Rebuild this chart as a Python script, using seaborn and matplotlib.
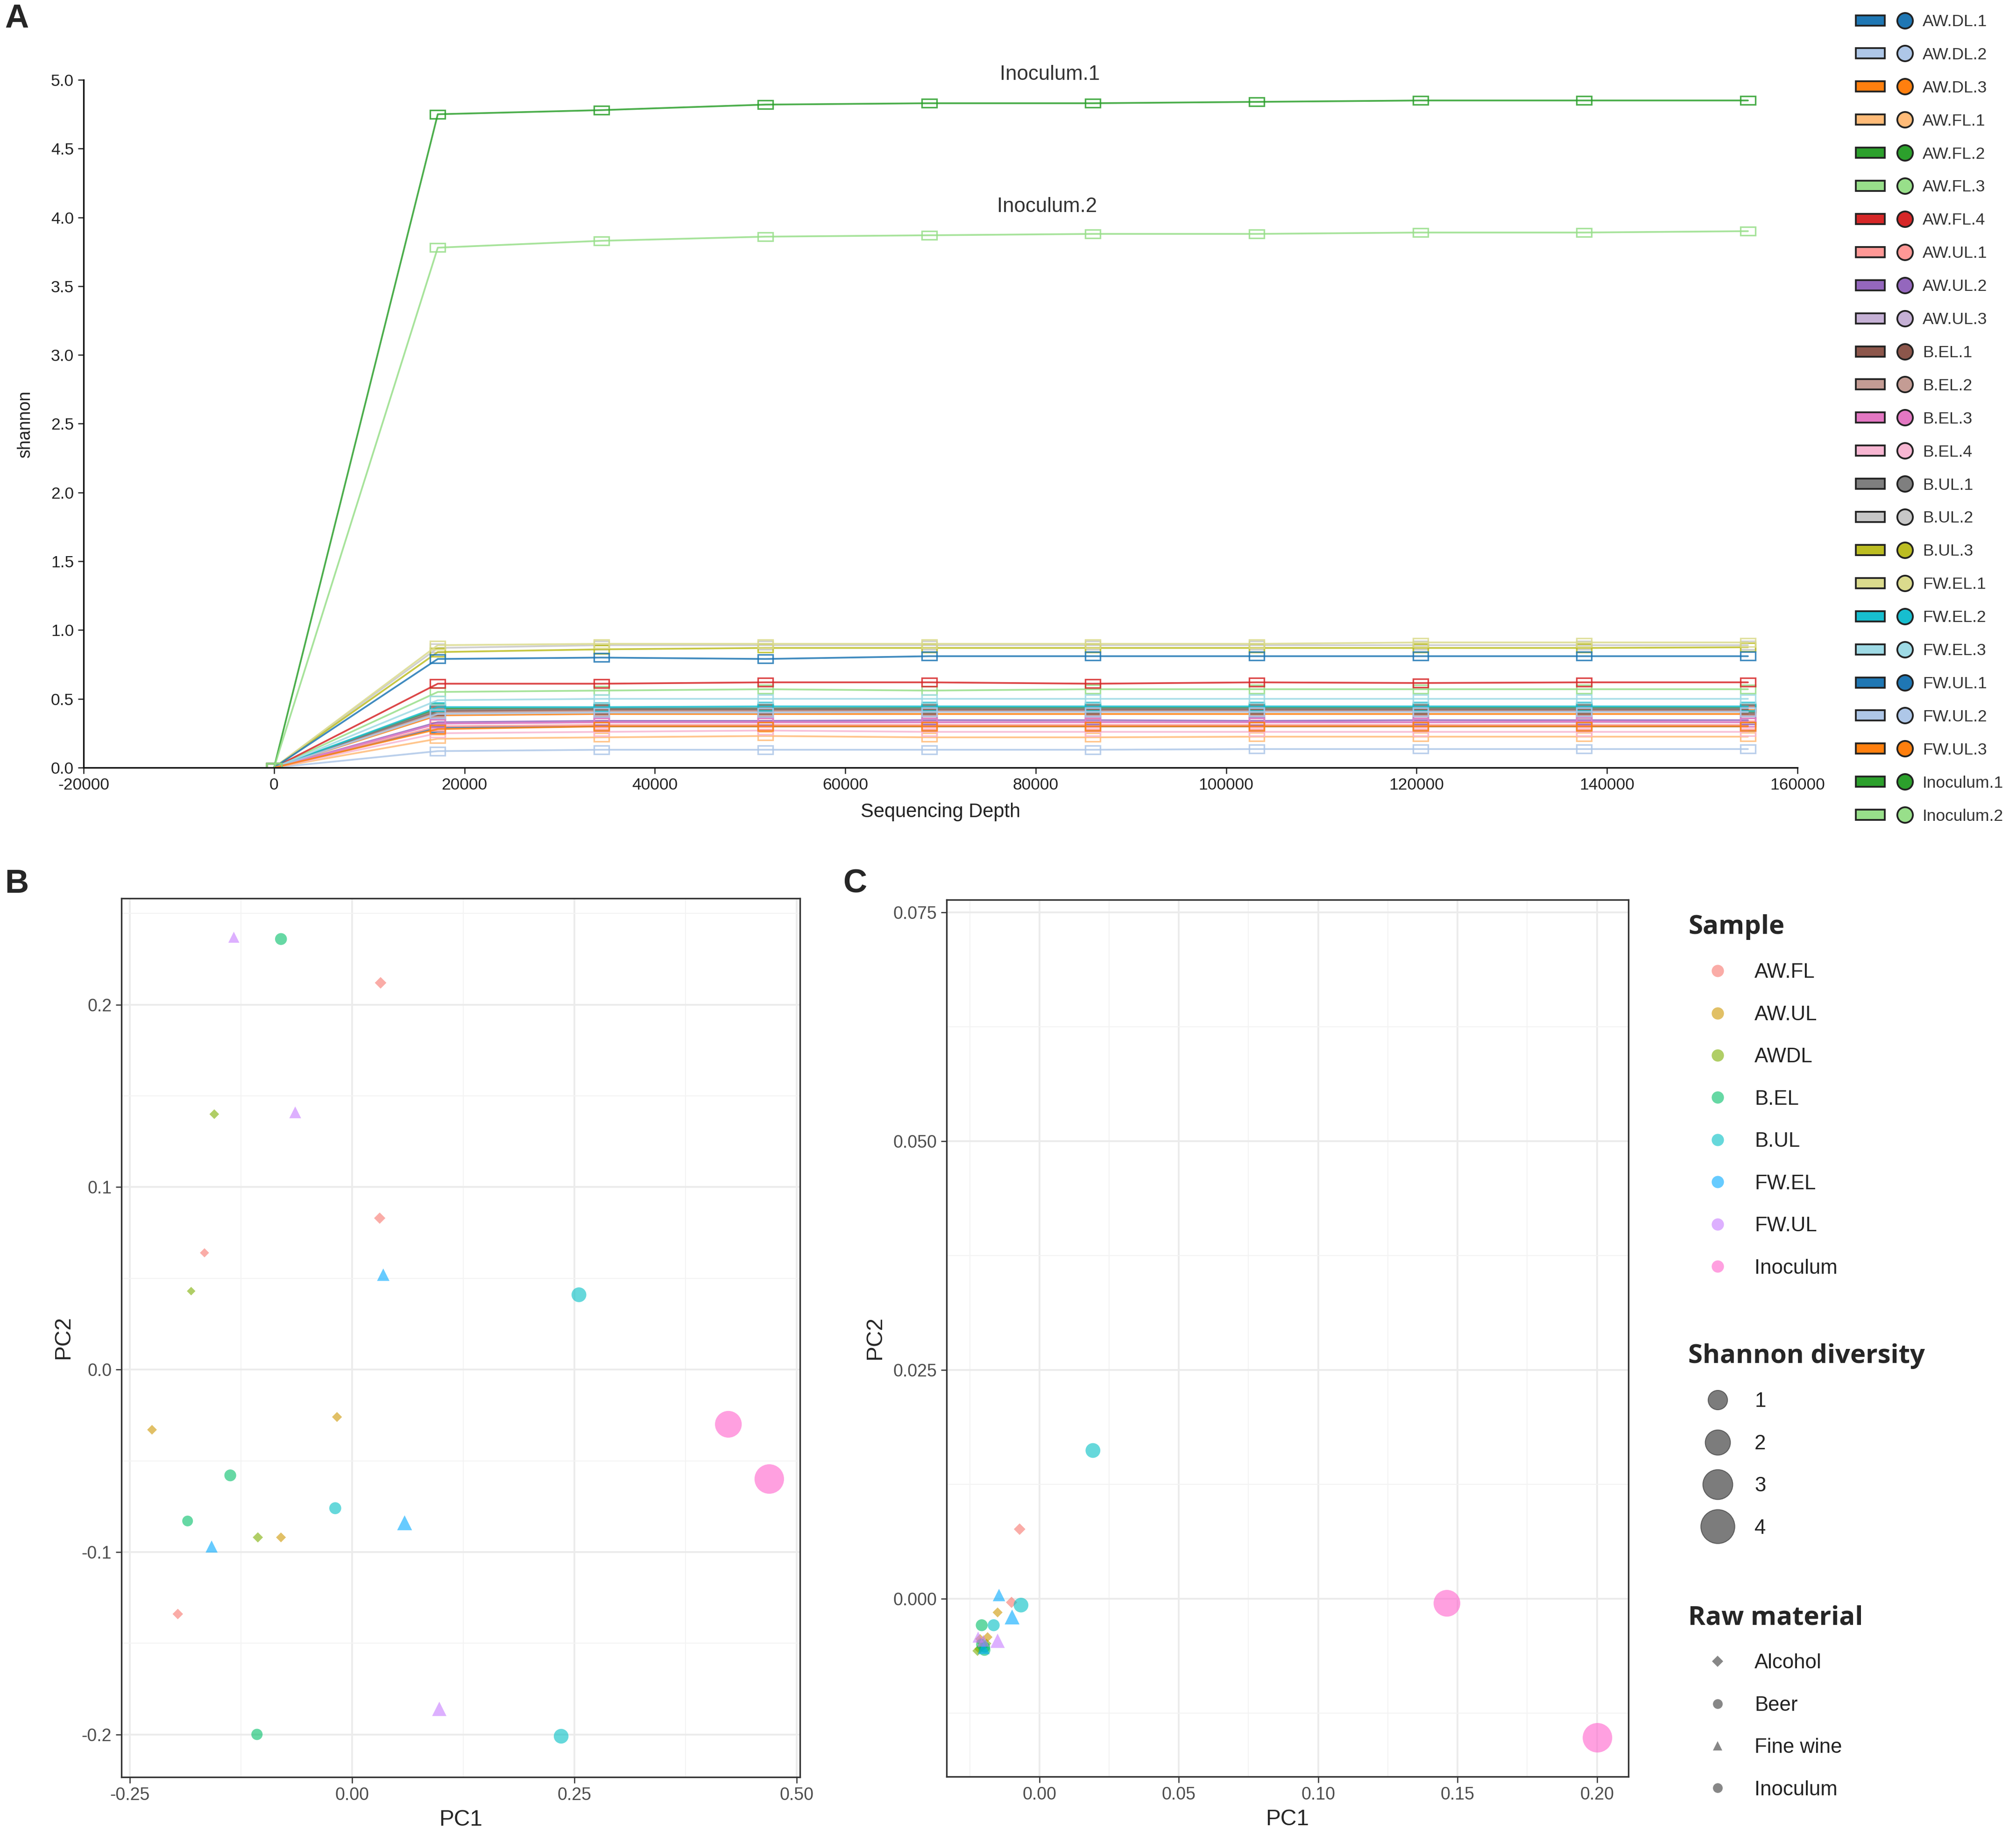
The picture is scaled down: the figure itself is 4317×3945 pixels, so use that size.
import pandas as pd
import numpy as np
import matplotlib
matplotlib.use("Agg")
import matplotlib.pyplot as plt
import seaborn as sns
from matplotlib.lines import Line2D
from matplotlib.legend_handler import HandlerTuple
from matplotlib.markers import MarkerStyle
from matplotlib.transforms import Affine2D
from matplotlib.ticker import MultipleLocator

W, H, DPI = 4317, 3945, 300

# ---------------- Panel A: rarefaction curves ----------------
depths = [0, 17200, 34400, 51600, 68800, 86000, 103200, 120400, 137600, 154800]
samples = ['AW.DL.1', 'AW.DL.2', 'AW.DL.3', 'AW.FL.1', 'AW.FL.2', 'AW.FL.3', 'AW.FL.4',
           'AW.UL.1', 'AW.UL.2', 'AW.UL.3', 'B.EL.1', 'B.EL.2', 'B.EL.3', 'B.EL.4',
           'B.UL.1', 'B.UL.2', 'B.UL.3', 'FW.EL.1', 'FW.EL.2', 'FW.EL.3',
           'FW.UL.1', 'FW.UL.2', 'FW.UL.3', 'Inoculum.1', 'Inoculum.2']
sample_colors = ['#1f77b4', '#aec7e8', '#ff7f0e', '#ffbb78', '#2ca02c', '#98df8a', '#d62728',
                 '#ff9896', '#9467bd', '#c5b0d5', '#8c564b', '#c49c94', '#e377c2', '#f7b6d2',
                 '#7f7f7f', '#c7c7c7', '#bcbd22', '#dbdb8d', '#17becf', '#9edae5',
                 '#1f77b4', '#aec7e8', '#ff7f0e', '#2ca02c', '#98df8a']

aw_dl_1 = [0, 0.29, 0.30, 0.30, 0.30, 0.30, 0.30, 0.30, 0.30, 0.30]
aw_dl_2 = [0, 0.12, 0.13, 0.13, 0.13, 0.13, 0.135, 0.135, 0.135, 0.135]
aw_dl_3 = [0, 0.38, 0.39, 0.39, 0.39, 0.39, 0.39, 0.39, 0.39, 0.39]
aw_fl_1 = [0, 0.21, 0.22, 0.23, 0.22, 0.22, 0.225, 0.225, 0.225, 0.225]
aw_fl_2 = [0, 0.43, 0.43, 0.43, 0.435, 0.435, 0.435, 0.435, 0.435, 0.435]
aw_fl_3 = [0, 0.55, 0.56, 0.57, 0.56, 0.57, 0.57, 0.57, 0.57, 0.57]
aw_fl_4 = [0, 0.61, 0.61, 0.62, 0.62, 0.61, 0.62, 0.615, 0.62, 0.62]
aw_ul_1 = [0, 0.30, 0.31, 0.31, 0.31, 0.31, 0.31, 0.31, 0.31, 0.31]
aw_ul_2 = [0, 0.33, 0.34, 0.34, 0.345, 0.345, 0.34, 0.345, 0.345, 0.345]
aw_ul_3 = [0, 0.32, 0.33, 0.33, 0.33, 0.335, 0.33, 0.33, 0.33, 0.33]
b_el_1 = [0, 0.41, 0.42, 0.42, 0.42, 0.42, 0.42, 0.42, 0.42, 0.42]
b_el_2 = [0, 0.40, 0.41, 0.41, 0.41, 0.41, 0.41, 0.41, 0.41, 0.41]
b_el_3 = [0, 0.32, 0.33, 0.33, 0.33, 0.33, 0.33, 0.33, 0.335, 0.33]
b_el_4 = [0, 0.25, 0.26, 0.27, 0.26, 0.26, 0.26, 0.26, 0.26, 0.26]
b_ul_1 = [0, 0.42, 0.43, 0.43, 0.43, 0.43, 0.43, 0.43, 0.43, 0.43]
b_ul_2 = [0, 0.87, 0.89, 0.89, 0.89, 0.89, 0.89, 0.89, 0.89, 0.89]
b_ul_3 = [0, 0.84, 0.86, 0.87, 0.87, 0.87, 0.87, 0.87, 0.87, 0.875]
fw_el_1 = [0, 0.89, 0.90, 0.90, 0.90, 0.90, 0.90, 0.91, 0.91, 0.91]
fw_el_2 = [0, 0.44, 0.44, 0.445, 0.445, 0.445, 0.445, 0.445, 0.445, 0.445]
fw_el_3 = [0, 0.49, 0.50, 0.50, 0.50, 0.50, 0.50, 0.50, 0.50, 0.50]
fw_ul_1 = [0, 0.79, 0.80, 0.79, 0.81, 0.81, 0.81, 0.81, 0.81, 0.81]
fw_ul_2 = [0, 0.39, 0.40, 0.40, 0.405, 0.405, 0.405, 0.405, 0.405, 0.405]
fw_ul_3 = [0, 0.28, 0.30, 0.30, 0.30, 0.30, 0.30, 0.30, 0.30, 0.30]
inoculum_1 = [0, 4.75, 4.78, 4.82, 4.83, 4.83, 4.84, 4.85, 4.85, 4.85]
inoculum_2 = [0, 3.78, 3.83, 3.86, 3.87, 3.88, 3.88, 3.89, 3.89, 3.90]

curves = [aw_dl_1, aw_dl_2, aw_dl_3, aw_fl_1, aw_fl_2, aw_fl_3, aw_fl_4,
          aw_ul_1, aw_ul_2, aw_ul_3, b_el_1, b_el_2, b_el_3, b_el_4,
          b_ul_1, b_ul_2, b_ul_3, fw_el_1, fw_el_2, fw_el_3,
          fw_ul_1, fw_ul_2, fw_ul_3, inoculum_1, inoculum_2]

# ---------------- Panels B and C: PCA ----------------
groups = ['AW.FL', 'AW.UL', 'AWDL', 'B.EL', 'B.UL', 'FW.EL', 'FW.UL', 'Inoculum']
group_colors = ['#F8766D', '#CD9600', '#7CAE00', '#00BE67', '#00BFC4', '#00A9FF', '#C77CFF', '#FF61CC']
materials = ['Alcohol', 'Beer', 'Fine wine', 'Inoculum']

sample_group = ['AWDL'] * 3 + ['AW.FL'] * 4 + ['AW.UL'] * 3 + ['B.EL'] * 4 + ['B.UL'] * 3 + \
               ['FW.EL'] * 3 + ['FW.UL'] * 3 + ['Inoculum'] * 2
sample_material = ['Alcohol'] * 10 + ['Beer'] * 7 + ['Fine wine'] * 6 + ['Inoculum'] * 2

pc1_b = [-0.155, -0.181, -0.106, -0.166, -0.196, 0.031, 0.032, -0.225, -0.017, -0.080,
         -0.080, -0.137, -0.107, -0.185, -0.019, 0.255, 0.235, 0.059, -0.158, 0.035,
         0.098, -0.064, -0.133, 0.469, 0.423]
pc2_b = [0.140, 0.043, -0.092, 0.064, -0.134, 0.083, 0.212, -0.033, -0.026, -0.092,
         0.236, -0.058, -0.200, -0.083, -0.076, 0.041, -0.201, -0.084, -0.097, 0.052,
         -0.186, 0.141, 0.237, -0.060, -0.030]
pc1_c = [-0.0190, -0.0218, -0.0222, -0.0212, -0.0205, -0.0100, -0.0071, -0.0213, -0.0150, -0.0186,
         -0.0207, -0.0197, -0.0207, -0.0196, -0.0164, 0.0192, -0.0066, -0.0098, -0.0200, -0.0145,
         -0.0150, -0.0201, -0.0220, 0.2002, 0.1462]
pc2_c = [-0.0049, -0.0055, -0.0057, -0.0047, -0.0052, -0.0004, 0.0076, -0.0044, -0.0015, -0.0042,
         -0.0029, -0.0056, -0.0050, -0.0053, -0.0029, 0.0162, -0.0007, -0.0020, -0.0054, 0.0004,
         -0.0046, -0.0046, -0.0042, -0.0152, -0.0005]

rare = pd.DataFrame([(s, d, v) for s, vals in zip(samples, curves) for d, v in zip(depths, vals)],
                    columns=['sample', 'depth', 'shannon'])
pca = pd.DataFrame({'sample': samples, 'group': sample_group, 'material': sample_material,
                    'pc1_b': pc1_b, 'pc2_b': pc2_b, 'pc1_c': pc1_c, 'pc2_c': pc2_c,
                    'shannon': [c[-1] for c in curves]})

sns.set_theme(style='ticks')
plt.rcParams['font.family'] = ['Liberation Sans', 'DejaVu Sans']

fig = plt.figure(figsize=(W / DPI, H / DPI), dpi=DPI)


def box(l, t, r, b):
    return [l / W, 1 - b / H, (r - l) / W, (b - t) / H]


# ---- A ----
ax_a = fig.add_axes(box(179, 171, 3849, 1644))
rect_marker = MarkerStyle('s', transform=Affine2D().scale(1.5, 0.85))
sns.lineplot(data=rare, x='depth', y='shannon', hue='sample', hue_order=samples,
             palette=sample_colors, marker=rect_marker, markersize=5, linewidth=0.9,
             alpha=0.85, errorbar=None, legend=False, ax=ax_a)
for line in ax_a.lines:
    line.set_markeredgecolor(line.get_color())
    line.set_markerfacecolor('none')
    line.set_markeredgewidth(0.8)
ax_a.set_xlim(-20000, 160000)
ax_a.set_ylim(0, 5.0)
ax_a.set_xticks(range(-20000, 160001, 20000))
ax_a.set_xticklabels([str(v) for v in range(-20000, 160001, 20000)])
ax_a.set_yticks(np.arange(0, 5.01, 0.5))
ax_a.set_yticklabels([f'{v:.1f}' for v in np.arange(0, 5.01, 0.5)])
ax_a.tick_params(labelsize=8.5, length=3, width=0.6, colors='#222222', pad=2)
for s in ['top', 'right']:
    ax_a.spines[s].set_visible(False)
for s in ['left', 'bottom']:
    ax_a.spines[s].set_linewidth(0.8)
    ax_a.spines[s].set_color('#111111')
ax_a.set_xlabel('Sequencing Depth', fontsize=10, labelpad=5, color='#222222')
ax_a.set_ylabel('shannon', fontsize=9, labelpad=9, color='#222222')
ax_a.text(81500, 5.04, 'Inoculum.1', fontsize=10.5, ha='center', va='center', color='#333333')
ax_a.text(81200, 4.08, 'Inoculum.2', fontsize=10.5, ha='center', va='center', color='#333333')

bar_marker = MarkerStyle('s', transform=Affine2D().scale(2.5, 0.9))
handles_a = []
for c in sample_colors:
    bar = Line2D([], [], ls='none', marker=bar_marker, ms=6, mfc=c, mec='#222222', mew=0.9)
    dot = Line2D([], [], ls='none', marker='o', ms=8, mfc=c, mec='#222222', mew=0.9)
    handles_a.append((bar, dot))
fig.legend(handles_a, samples, loc='upper left', bbox_to_anchor=(3975 / W, 1 - 30 / H),
           frameon=False, fontsize=8.5, handlelength=3.8, handletextpad=0.2,
           labelspacing=1.07, borderpad=0, borderaxespad=0,
           handler_map={tuple: HandlerTuple(ndivide=None, pad=0.4)},
           labelcolor='#333333')

# ---- B and C ----
diamond = MarkerStyle('D', transform=Affine2D().scale(0.62))
material_markers = {'Alcohol': diamond, 'Beer': 'o', 'Fine wine': '^', 'Inoculum': 'o'}
size_range = (25, 230)

ax_b = fig.add_axes(box(260, 1924, 1713, 3806))
ax_c = fig.add_axes(box(2027, 1927, 3487, 3805))

panels = [
    (ax_b, 'pc1_b', 'pc2_b', (-0.2594, 0.5035), (-0.2234, 0.2583),
     [-0.25, 0, 0.25, 0.5], ['-0.25', '0.00', '0.25', '0.50'], 0.125,
     [-0.2, -0.1, 0, 0.1, 0.2], ['-0.2', '-0.1', '0.0', '0.1', '0.2'], 0.05),
    (ax_c, 'pc1_c', 'pc2_c', (-0.0333, 0.2113), (-0.01945, 0.0764),
     [0, 0.05, 0.1, 0.15, 0.2], ['0.00', '0.05', '0.10', '0.15', '0.20'], 0.025,
     [0, 0.025, 0.05, 0.075], ['0.000', '0.025', '0.050', '0.075'], 0.0125),
]
for ax, xc, yc, xl, yl, xt, xtl, xm, yt, ytl, ym in panels:
    sns.scatterplot(data=pca, x=xc, y=yc, hue='group', hue_order=groups, palette=group_colors,
                    size='shannon', sizes=size_range, style='material', style_order=materials,
                    markers=material_markers, alpha=0.6, linewidth=0, legend=False, ax=ax)
    ax.set_xlim(*xl)
    ax.set_ylim(*yl)
    ax.set_xticks(xt)
    ax.set_xticklabels(xtl)
    ax.set_yticks(yt)
    ax.set_yticklabels(ytl)
    ax.xaxis.set_minor_locator(MultipleLocator(xm))
    ax.yaxis.set_minor_locator(MultipleLocator(ym))
    ax.tick_params(which='major', labelsize=9, length=3, width=0.6, colors='#333333',
                   labelcolor='#4D4D4D', pad=2)
    ax.tick_params(which='minor', length=0)
    ax.grid(True, which='major', color='#EBEBEB', lw=0.9)
    ax.grid(True, which='minor', color='#F3F3F3', lw=0.5)
    ax.set_axisbelow(True)
    for s in ax.spines.values():
        s.set_visible(True)
        s.set_color('#333333')
        s.set_linewidth(0.8)
    ax.set_xlabel('PC1', fontsize=11.5, labelpad=3)
    ax.set_ylabel('PC2', fontsize=11.5, labelpad=4)

# legends for B/C
title_font = {'family': 'Open Sans', 'weight': 'bold', 'size': 13.5}
common = dict(loc='upper left', frameon=False, fontsize=10.5, handlelength=2.9,
              handletextpad=0.35, borderpad=0, borderaxespad=0, alignment='left',
              title_fontproperties=title_font, labelcolor='#222222', labelspacing=1.13)

h_sample = [Line2D([], [], ls='none', marker='o', ms=6.3, mfc=c, mec='none', alpha=0.6)
            for c in group_colors]
fig.legend(h_sample, groups, title='Sample', bbox_to_anchor=(3615 / W, 1 - 1958 / H), **common)

smin, smax = pca['shannon'].min(), pca['shannon'].max()
size_levels = [1, 2, 3, 4]
h_size = []
for s in size_levels:
    area = size_range[0] + (size_range[1] - size_range[0]) * (s - smin) / (smax - smin)
    h_size.append(Line2D([], [], ls='none', marker='o', ms=1.25 * np.sqrt(area), mfc='#6E6E6E',
                         mec='#555555', mew=0.5, alpha=0.9))
fig.legend(h_size, [str(s) for s in size_levels], title='Shannon diversity',
           bbox_to_anchor=(3615 / W, 1 - 2877 / H), **common)

h_mat = [Line2D([], [], ls='none', marker=material_markers[m], ms=6.5 if m == 'Alcohol' else 5,
                mfc='#7A7A7A', mec='none', alpha=0.9) for m in materials]
fig.legend(h_mat, materials, title='Raw material', bbox_to_anchor=(3615 / W, 1 - 3437 / H),
           **common)

# panel letters
for lbl, px, py in [('A', 36, 41), ('B', 36, 1894), ('C', 1831, 1894)]:
    fig.text(px / W, 1 - py / H, lbl, fontsize=17, fontweight='bold', ha='center', va='center')

fig.savefig('out.png', dpi=DPI)
